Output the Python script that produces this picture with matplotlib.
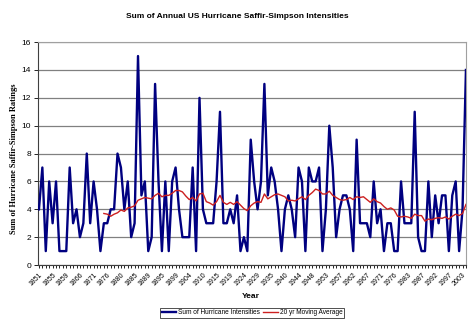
import matplotlib
matplotlib.use("Agg")
import matplotlib.pyplot as plt
import numpy as np

# yearly sums (only years with US hurricane landfalls, 1851-2004)
intensities = [4, 7, 1, 6, 3, 6, 1, 1, 1, 7, 3, 4, 2, 3, 8, 3, 6, 4, 1, 3,
               3, 4, 4, 8, 7, 4, 6, 2, 3, 15, 5, 6, 1, 2, 13, 6, 1, 6, 1, 6,
               7, 4, 2, 2, 2, 7, 1, 12, 4, 3, 3, 3, 6, 11, 3, 3, 4, 3, 5, 1,
               2, 1, 9, 6, 4, 6, 13, 5, 7, 6, 4, 1, 4, 5, 4, 2, 7, 6, 1, 7,
               6, 6, 7, 1, 4, 10, 7, 2, 4, 5, 5, 4, 1, 9, 3, 3, 3, 2, 6, 3,
               4, 1, 3, 3, 1, 1, 6, 3, 3, 3, 11, 2, 1, 1, 6, 2, 5, 3, 5, 5,
               1, 5, 6, 1, 4, 14]
tick_years = ["1851", "1855", "1859", "1866", "1871", "1876", "1880", "1885",
              "1889", "1895", "1899", "1904", "1910", "1915", "1919", "1924",
              "1929", "1935", "1940", "1944", "1948", "1953", "1957", "1962",
              "1967", "1971", "1976", "1983", "1987", "1992", "1997", "2003"]
window = 20

vals = np.array(intensities, dtype=float)
idx = np.arange(len(vals))
# excel-style trailing moving average trendline
ma = np.convolve(vals, np.ones(window) / window, mode="valid")
ma_idx = idx[window - 1:]

fig = plt.figure(figsize=(4.74, 3.24), dpi=100)
ax = fig.add_axes([0.080, 0.182, 0.903, 0.688])

ax.plot(idx, vals, color="#000080", lw=1.7, label="Sum of Hurricane Intensities", zorder=3)
ax.plot(ma_idx, ma, color="#cc2020", lw=1.0, label="20 yr Moving Average", zorder=4)

ax.set_xlim(-0.3, len(vals) - 1)
ax.set_ylim(0, 16)
ax.set_yticks(range(0, 17, 2))
ax.yaxis.grid(True, color="#808080", lw=0.9)
ax.set_axisbelow(True)

ax.set_xticks(idx, minor=True)
ax.set_xticks(idx[::4][:len(tick_years)])
ax.set_xticklabels(tick_years, rotation=45, ha="right", rotation_mode="anchor",
                   fontsize=5, family="Liberation Sans")
ax.tick_params(axis="x", which="both", length=2.5, width=0.6, pad=2, direction="out")
ax.tick_params(axis="y", length=3, width=0.6, labelsize=6, pad=2)
for lab in ax.get_yticklabels():
    lab.set_family("Liberation Sans")

for s in ["top", "right"]:
    ax.spines[s].set_color("#a0a0a0")
    ax.spines[s].set_linewidth(0.8)
for s in ["left", "bottom"]:
    ax.spines[s].set_color("#404040")
    ax.spines[s].set_linewidth(0.8)

fig.text(0.5, 0.948, "Sum of Annual US Hurricane Saffir-Simpson Intensities",
         ha="center", va="center", fontsize=6.0, fontweight="bold", family="Liberation Sans")
fig.text(0.030, 0.51, "Sum of Hurricane Saffir-Simpson Ratings", rotation=90,
         ha="center", va="center", fontsize=6.0, fontweight="bold", family="Liberation Serif")
fig.text(0.53, 0.085, "Year", ha="center", va="center", fontsize=6.0,
         fontweight="bold", family="Liberation Sans")

leg = fig.legend(loc="center", bbox_to_anchor=(0.532, 0.034), ncol=2,
                 frameon=True, fancybox=False, handlelength=2.2, handletextpad=0.3,
                 columnspacing=0.5, borderpad=0.3, prop={"family": "Liberation Sans", "size": 4.7})
leg.get_frame().set_edgecolor("black")
leg.get_frame().set_linewidth(0.6)

fig.savefig("out.png", dpi=100)
